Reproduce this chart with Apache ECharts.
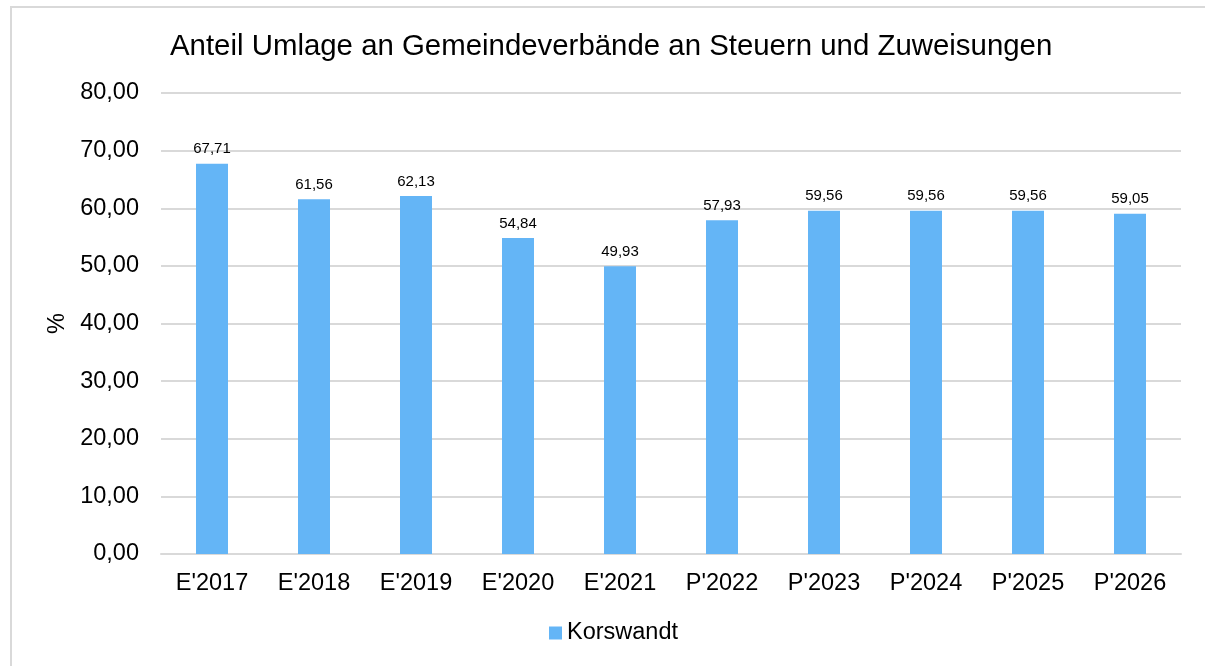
<!DOCTYPE html>
<html><head><meta charset="utf-8">
<script src="https://cdn.jsdelivr.net/npm/echarts@6/dist/echarts.min.js"></script>
<style>html,body{margin:0;padding:0;background:#fff;}#frame{position:absolute;left:10px;top:6px;width:1300px;height:700px;border:2px solid #d9d9d9;box-sizing:border-box;}#c{width:1205px;height:666px;position:absolute;left:0;top:0;}</style>
</head><body>
<div id="frame"></div>
<div id="c"></div>
<script>
const categories = ["E'2017","E'2018","E'2019","E'2020","E'2021","P'2022","P'2023","P'2024","P'2025","P'2026"];
const values = [67.71,61.56,62.13,54.84,49.93,57.93,59.56,59.56,59.56,59.05];
const seriesName = "Korswandt";
const titleText = "Anteil Umlage an Gemeindeverbände an Steuern und Zuweisungen";
const fmt = v => v.toFixed(2).replace('.', ',');
const chart = echarts.init(document.getElementById('c'));
chart.setOption({
  animation:false,
  textStyle:{fontFamily:'Liberation Sans, Arial, sans-serif'},
  title:{text:titleText,left:165,top:27,textStyle:{fontSize:29.4,fontWeight:'normal',color:'#000',fontFamily:'Liberation Sans, Arial, sans-serif'}},
  legend:{bottom:16,left:544,itemWidth:13,itemHeight:13,itemGap:4,icon:'rect',textStyle:{fontSize:23.5,color:'#000'},data:[seriesName]},
  grid:{left:161,right:24,top:93,bottom:112},
  xAxis:{type:'category',data:categories,axisLine:{lineStyle:{color:'#d9d9d9',width:2}},axisTick:{show:false},axisLabel:{fontSize:23.5,color:'#000',margin:18}},
  yAxis:{type:'value',min:0,max:80,interval:10,name:'%',nameLocation:'middle',nameGap:89,nameRotate:90,nameTextStyle:{fontSize:23.5,color:'#000'},
    axisLabel:{fontSize:23.5,color:'#000',margin:22,formatter:v=>fmt(v)},splitLine:{lineStyle:{color:'#d9d9d9',width:2}},axisLine:{show:false},axisTick:{show:false}},
  series:[{name:seriesName,type:'bar',data:values,barWidth:32,itemStyle:{color:'#64B5F6'},
    label:{show:true,position:'top',distance:7,fontSize:15,color:'#000',formatter:p=>fmt(p.value)}}]
});
</script>
</body></html>
